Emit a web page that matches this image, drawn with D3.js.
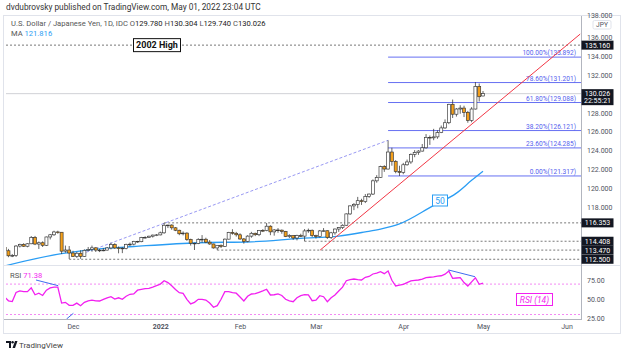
<!DOCTYPE html>
<html>
<head>
<meta charset="utf-8">
<script src="https://cdn.jsdelivr.net/npm/d3@7"></script>
<style>
  body { margin: 0; background: #fff; }
  svg { display: block; font-family: Roboto, "Liberation Sans", sans-serif; }
</style>
</head>
<body>
<svg id="chart" width="624" height="354"></svg>
<script>
// daily USD/JPY candles, Nov 05 2021 -> May 02 2022 (weekdays only)
const opens = [113.76,113.40,112.87,112.90,113.90,114.07,113.88,114.14,114.82,114.11,114.25,113.98,114.86,115.09,115.39,115.36,113.36,113.48,
  113.16,112.80,113.14,112.80,113.45,113.54,113.71,113.47,113.42,113.47,113.70,114.05,113.70,113.68,113.63,114.08,114.10,114.40,114.36,114.80,114.82,114.94,115.06,
  115.08,115.30,116.10,116.12,115.83,115.57,115.20,115.27,114.60,114.20,114.18,114.60,114.62,114.31,114.12,113.70,113.98,113.85,114.63,115.35,115.25,
  115.09,114.65,114.40,114.95,115.25,115.10,115.55,115.53,116.00,115.40,115.60,115.58,115.45,114.90,115.00,114.75,115.00,114.95,115.50,115.57,
  115.00,114.90,115.50,115.52,114.80,115.30,115.70,115.85,116.10,117.30,118.15,118.30,118.70,118.60,119.15,119.40,120.80,121.15,122.30,122.05,123.85,122.85,121.80,
  121.70,122.50,122.80,123.60,123.80,123.95,124.30,125.40,125.35,125.45,125.90,126.40,126.95,128.90,127.85,128.40,128.50,128.05,127.20,128.40,130.80,
  129.78];
const highs = [113.86,113.60,113.06,114.00,114.15,114.20,114.20,114.96,114.97,114.38,114.40,114.90,115.18,115.52,115.52,115.38,113.95,113.90,
  113.40,113.28,113.45,113.55,113.80,113.95,113.78,113.60,113.68,113.80,114.25,114.20,113.85,113.78,114.15,114.27,114.45,114.45,114.87,114.93,115.00,115.11,115.17,
  115.43,116.35,116.15,116.20,115.90,115.63,115.45,115.35,114.68,114.25,114.73,115.06,114.78,114.53,114.15,114.00,114.07,114.70,115.40,115.68,115.40,
  115.25,114.75,115.05,115.40,115.32,115.60,115.69,116.34,116.10,115.70,115.80,115.65,115.50,115.15,115.05,115.10,115.20,115.70,115.75,115.65,
  115.10,115.60,115.80,115.55,115.40,115.75,115.90,116.20,117.35,118.20,118.45,119.10,118.90,119.40,119.45,120.95,121.40,122.40,122.45,125.09,124.30,123.00,122.40,
  122.70,123.05,123.70,124.05,124.05,124.70,125.75,125.60,126.30,126.15,126.65,127.30,128.95,129.40,128.50,128.80,128.75,128.20,128.60,131.25,131.10,
  130.304];
const lows = [113.27,112.72,112.73,112.75,113.75,113.80,113.77,114.10,114.00,113.59,113.80,113.90,114.60,114.98,115.20,113.06,113.20,112.53,
  112.75,112.65,112.55,112.75,113.38,113.30,113.27,113.26,113.35,113.43,113.55,113.60,113.13,113.15,113.55,113.90,113.98,114.25,114.30,114.70,114.80,114.80,114.95,
  115.03,115.20,115.80,115.62,115.48,115.05,115.03,114.45,113.95,113.48,114.10,114.25,114.21,114.03,113.63,113.47,113.69,113.80,114.60,115.10,114.90,
  114.55,114.15,114.30,114.78,114.95,114.95,115.38,115.47,115.05,115.00,115.30,115.20,114.85,114.75,114.55,114.50,114.85,114.41,115.30,114.85,
  114.70,114.80,115.40,114.65,114.65,115.10,115.40,115.70,116.05,117.20,117.70,117.90,118.25,118.45,119.00,119.30,120.60,121.10,121.75,122.00,122.40,121.60,121.317,
  121.50,122.40,122.60,123.30,123.55,123.90,124.20,124.60,125.10,125.25,125.85,126.30,126.80,127.45,127.60,127.90,127.55,126.95,127.00,128.35,129.20,
  129.74];
const closes = [113.40,112.87,112.90,113.90,114.07,113.88,114.14,114.82,114.11,114.25,113.98,114.86,115.09,115.39,115.36,113.36,113.48,113.16,
  112.80,113.14,112.80,113.45,113.54,113.71,113.47,113.42,113.47,113.70,114.05,113.70,113.68,113.63,114.08,114.10,114.40,114.36,114.80,114.82,114.94,115.06,115.08,
  115.30,116.10,116.12,115.83,115.57,115.20,115.27,114.60,114.20,114.18,114.60,114.62,114.31,114.12,113.70,113.98,113.85,114.63,115.35,115.25,115.09,
  114.65,114.40,114.95,115.25,115.10,115.55,115.53,116.00,115.40,115.60,115.58,115.45,114.90,115.00,114.75,115.00,114.95,115.50,115.57,115.00,
  114.90,115.50,115.52,114.80,115.30,115.70,115.85,116.10,117.30,118.15,118.30,118.70,118.60,119.15,119.40,120.80,121.15,122.30,122.05,123.85,122.85,121.80,121.70,
  122.50,122.80,123.60,123.80,123.95,124.30,125.40,125.35,125.45,125.90,126.40,126.95,128.90,127.85,128.40,128.50,128.05,127.20,128.40,130.80,129.70,
  130.026];

// RSI(14), one value per candle
const rsiValues = [53,48,47,59,61,60,60,65,56,58,55,62,65,66,66,45,46,42,
  42,45,41.6,46,48,49,48,47.8,50,52,53.4,50.4,52,50,54,56.6,57,62,63.2,64,64.5,66,67.9,
  70,74.5,72,67.9,63,58.7,57.9,50,44,46,50,50,49,45,39.5,41.6,50,60,60,58.7,58,
  53,47.8,54,57,57.5,59.2,61,63.2,55.7,56,57,55,50,48,46.8,52,54.7,56,55.7,48.2,
  49,54.7,53.4,46.8,52,55.7,61,66,74.5,76,76.7,75.8,75.4,78.9,80,83.3,84.5,86.3,83.7,87.2,75,67.5,68.5,
  69.7,72,74.1,75,75.4,76.5,78.4,79,79.5,80.5,81,83,87.2,77.6,78,78.4,72,67.5,73,78.4,69.7,
  71.38];

// 50-day moving average read at a few candles
const maBars = [0,15,25,34,51,65,78,88,95,99,104,113,119,123,126];
const maValues = [111.8,113.1,113.6,113.85,114.25,114.35,114.72,114.95,115.4,115.7,116.25,118.2,119.5,120.85,121.816];

// fib levels
const fibPercents = ["0.00%","23.60%","38.20%","61.80%","78.60%","100.00%"];
const fibPrices = [121.317,124.285,126.121,129.088,131.201,133.892];

// horizontal levels and the candle where each one starts
const levelPrices = [135.160,116.353,114.408,113.470,112.500];
const levelStartBar = [-2,42,79,56,17];

// axis ticks
const priceTicks = [118,120,122,124,126,128,132,134,136,138];
const rsiTicks = [25,50,75];
const monthTickDates = ["2021-12-01","2022-01-03","2022-02-01","2022-03-01","2022-04-01","2022-05-02","2022-06-01"];
const monthTickLabels = ["Dec","2022","Feb","Mar","Apr","May","Jun"];

const lastPrice = 130.026;

// trading days (weekdays) so dates can be turned into bar numbers
const parse = d3.timeParse("%Y-%m-%d");
const tradingDays = d3.timeDay.range(parse("2021-11-05"), parse("2022-06-30"))
  .filter(d => d.getDay() !== 0 && d.getDay() !== 6);
const barOf = s => tradingDays.findIndex(d => +d === +parse(s));

const svg = d3.select("#chart");
const plotL = 6, plotR = 581, priceTop = 15, priceBot = 265, rsiTop = 266, rsiBot = 319;

const x = d3.scaleLinear().domain([0, 126]).range([4.67, 483]);
const y = d3.scaleLinear().domain([110, 140]).range([282.9, -0.6]);
const yr = d3.scaleLinear().domain([0, 100]).range([337.3, 261.3]);

// clip paths
const defs = svg.append("defs");
defs.append("clipPath").attr("id", "clipPrice").append("rect")
  .attr("x", plotL).attr("y", priceTop).attr("width", plotR - plotL).attr("height", priceBot - priceTop);
defs.append("clipPath").attr("id", "clipRsi").append("rect")
  .attr("x", plotL).attr("y", rsiTop).attr("width", plotR - plotL).attr("height", rsiBot - rsiTop);

// header line
svg.append("text").attr("x", 6).attr("y", 10).attr("font-size", 8.3).attr("fill", "#333")
  .text("dvdubrovsky published on TradingView.com, May 01, 2022 23:04 UTC");

// frame
svg.append("rect").attr("x", 3.5).attr("y", 15.5).attr("width", 617).attr("height", 318)
  .attr("fill", "#fff").attr("stroke", "#e0e3eb");
svg.append("line").attr("x1", 4).attr("x2", 620).attr("y1", priceBot + 0.5).attr("y2", priceBot + 0.5)
  .attr("stroke", "#e0e3eb");
svg.append("line").attr("x1", 4).attr("x2", plotR).attr("y1", rsiBot + 0.5).attr("y2", rsiBot + 0.5)
  .attr("stroke", "#b2b5be");
svg.append("line").attr("x1", plotR + 0.5).attr("x2", plotR + 0.5).attr("y1", 16).attr("y2", rsiBot + 1)
  .attr("stroke", "#b2b5be");

// ---------- price pane ----------
const gp = svg.append("g").attr("clip-path", "url(#clipPrice)");

// last price line
gp.append("line").attr("x1", plotL).attr("x2", plotR).attr("y1", y(lastPrice)).attr("y2", y(lastPrice))
  .attr("stroke", "#c4c6cc").attr("stroke-width", 0.8);

// dashed levels
gp.selectAll("line.level").data(levelPrices).join("line").attr("class", "level")
  .attr("x1", (d, i) => Math.max(plotL, x(levelStartBar[i]))).attr("x2", plotR)
  .attr("y1", d => y(d)).attr("y2", d => y(d))
  .attr("stroke", "#555").attr("stroke-width", 0.8).attr("stroke-dasharray", "2,2");

// fib lines
gp.selectAll("line.fib").data(fibPrices).join("line").attr("class", "fib")
  .attr("x1", x(101)).attr("x2", plotR)
  .attr("y1", d => y(d)).attr("y2", d => y(d))
  .attr("stroke", "#6670f2").attr("stroke-width", 1);
gp.selectAll("text.fib").data(fibPrices).join("text").attr("class", "fib")
  .attr("x", 576).attr("y", d => y(d) - 1.8).attr("text-anchor", "end")
  .attr("font-size", 6.6).attr("fill", "#5560ee")
  .text((d, i) => fibPercents[i] + "(" + d3.format(".3f")(d) + ")");

// purple dashed swing line
gp.append("line").attr("x1", x(21.5)).attr("y1", y(113.25)).attr("x2", x(101)).attr("y2", y(125.09))
  .attr("stroke", "#8c8cf0").attr("stroke-width", 0.9).attr("stroke-dasharray", "3,2");

// MA 50
gp.append("path").datum(maBars)
  .attr("d", d3.line().x(d => x(d)).y((d, i) => y(maValues[i])).curve(d3.curveMonotoneX))
  .attr("fill", "none").attr("stroke", "#2a9df4").attr("stroke-width", 1.3);

// candles
const bars = d3.range(closes.length);
gp.selectAll("line.wick").data(bars).join("line").attr("class", "wick")
  .attr("x1", i => x(i)).attr("x2", i => x(i))
  .attr("y1", i => y(highs[i])).attr("y2", i => y(lows[i]))
  .attr("stroke", "#333").attr("stroke-width", 0.75);
gp.selectAll("rect.body").data(bars).join("rect").attr("class", "body")
  .attr("x", i => x(i) - 1.5).attr("width", 3)
  .attr("y", i => y(Math.max(opens[i], closes[i])))
  .attr("height", i => Math.max(0.7, Math.abs(y(opens[i]) - y(closes[i]))))
  .attr("fill", i => closes[i] >= opens[i] ? "#ffffff" : "#f5a01a")
  .attr("stroke", "#333").attr("stroke-width", 0.65);

// red trendline
gp.append("line").attr("x1", x(83.1)).attr("y1", y(113.47)).attr("x2", x(151.6)).attr("y2", y(136.33))
  .attr("stroke", "#f23645").attr("stroke-width", 1);

// 2002 High label
const hi = svg.append("g");
hi.append("rect").attr("x", 133.5).attr("y", y(135.16) - 6.5).attr("width", 47).attr("height", 13)
  .attr("fill", "#fff").attr("stroke", "#111").attr("stroke-width", 1);
hi.append("text").attr("x", 157).attr("y", y(135.16) + 3).attr("text-anchor", "middle")
  .attr("font-size", 9).attr("font-weight", "bold").attr("fill", "#111").text("2002 High");

// "50" label
const ml = svg.append("g");
ml.append("rect").attr("x", 432.5).attr("y", 195).attr("width", 15).attr("height", 11)
  .attr("fill", "#fff").attr("stroke", "#2a9df4").attr("stroke-width", 1);
ml.append("text").attr("x", 440).attr("y", 203.5).attr("text-anchor", "middle")
  .attr("font-size", 8.5).attr("fill", "#2a9df4").text("50");

// legend
const lg = svg.append("text").attr("x", 11).attr("y", 26).attr("font-size", 7.6).attr("fill", "#555");
lg.append("tspan").text("U.S. Dollar / Japanese Yen, 1D, IDC  O");
lg.append("tspan").attr("fill", "#222").text("129.780");
lg.append("tspan").text("  H");
lg.append("tspan").attr("fill", "#222").text("130.304");
lg.append("tspan").text("  L");
lg.append("tspan").attr("fill", "#222").text("129.740");
lg.append("tspan").text("  C");
lg.append("tspan").attr("fill", "#222").text("130.026");
const lm = svg.append("text").attr("x", 11).attr("y", 35.5).attr("font-size", 7.6).attr("fill", "#555");
lm.append("tspan").text("MA  ");
lm.append("tspan").attr("fill", "#2a9df4").text(maValues[maValues.length - 1].toFixed(3));

// price axis
const pa = svg.append("g")
  .attr("transform", `translate(${plotR},0)`)
  .call(d3.axisRight(y).tickValues(priceTicks).tickFormat(d3.format(".3f")).tickSize(0).tickPadding(6));
pa.select(".domain").remove();
pa.selectAll("text").attr("font-size", 7).attr("fill", "#50535e").attr("font-family", "Roboto, sans-serif");
pa.selectAll(".tick").filter(d => d === 138).attr("transform", "translate(0,16)");

// JPY tag
svg.append("rect").attr("x", 593).attr("y", 20.5).attr("width", 18).attr("height", 8.5).attr("rx", 1.5)
  .attr("fill", "#fff").attr("stroke", "#e0e3eb");
svg.append("text").attr("x", 602).attr("y", 27.2).attr("text-anchor", "middle").attr("font-size", 6.6)
  .attr("fill", "#50535e").text("JPY");

// black price tags
const tagPrices = levelPrices.slice();
svg.selectAll("g.tag").data(tagPrices).join("g").attr("class", "tag")
  .each(function (d) {
    const g = d3.select(this);
    g.append("rect").attr("x", plotR + 0.5).attr("y", y(d) - 4.5).attr("width", 32).attr("height", 9)
      .attr("fill", "#131722");
    g.append("text").attr("x", plotR + 16.5).attr("y", y(d) + 2.5).attr("text-anchor", "middle")
      .attr("font-size", 7).attr("fill", "#fff").text(d3.format(".3f")(d));
  });
const lt = svg.append("g");
lt.append("rect").attr("x", plotR + 0.5).attr("y", y(lastPrice) - 4.5).attr("width", 32).attr("height", 16)
  .attr("fill", "#131722");
lt.append("text").attr("x", plotR + 16.5).attr("y", y(lastPrice) + 2.5).attr("text-anchor", "middle")
  .attr("font-size", 7).attr("fill", "#fff").text(d3.format(".3f")(lastPrice));
lt.append("text").attr("x", plotR + 16.5).attr("y", y(lastPrice) + 9.5).attr("text-anchor", "middle")
  .attr("font-size", 7).attr("fill", "#fff").text("22:55:21");

// ---------- RSI pane ----------
const gr = svg.append("g").attr("clip-path", "url(#clipRsi)");
gr.selectAll("line.band").data([70, 30]).join("line").attr("class", "band")
  .attr("x1", plotL).attr("x2", plotR).attr("y1", d => yr(d)).attr("y2", d => yr(d))
  .attr("stroke", "#f06cf0").attr("stroke-width", 0.8).attr("stroke-dasharray", "2,2");
gr.append("path").datum(bars)
  .attr("d", d3.line().x(i => x(i)).y(i => yr(rsiValues[i])))
  .attr("fill", "none").attr("stroke", "#f21ff0").attr("stroke-width", 1.3);

// RSI trendlines
const rsiTrendA = [[8.25, 75.4], [14.1, 67.9]];
const rsiTrendB = [[16.3, 24.1], [18.1, 31.6]];
const rsiTrendC = [[116.9, 88.6], [123.9, 79.7]];
gr.selectAll("path.trend").data([rsiTrendA, rsiTrendB, rsiTrendC]).join("path").attr("class", "trend")
  .attr("d", d3.line().x(p => x(p[0])).y(p => yr(p[1])))
  .attr("stroke", "#3f6cf0").attr("stroke-width", 1).attr("fill", "none");

const rl = svg.append("text").attr("x", 10).attr("y", 277.5).attr("font-size", 7.6).attr("fill", "#555");
rl.append("tspan").text("RSI  ");
rl.append("tspan").attr("fill", "#f21ff0").text(rsiValues[rsiValues.length - 1].toFixed(2));

svg.append("rect").attr("x", 516.5).attr("y", 293.5).attr("width", 36).attr("height", 12)
  .attr("fill", "#fff").attr("stroke", "#f21ff0").attr("stroke-width", 1);
svg.append("text").attr("x", 534.5).attr("y", 302.5).attr("text-anchor", "middle")
  .attr("font-size", 8.5).attr("font-style", "italic").attr("fill", "#f21ff0").text("RSI (14)");

const ra = svg.append("g").attr("transform", `translate(${plotR},0)`)
  .call(d3.axisRight(yr).tickValues(rsiTicks).tickFormat(d3.format(".2f")).tickSize(0).tickPadding(6));
ra.select(".domain").remove();
ra.selectAll("text").attr("font-size", 7).attr("fill", "#50535e").attr("font-family", "Roboto, sans-serif");

// ---------- time axis ----------
const ta = svg.append("g").attr("transform", `translate(0,${rsiBot})`)
  .call(d3.axisBottom(x).tickValues(monthTickDates.map(barOf))
    .tickFormat((d, i) => monthTickLabels[i]).tickSize(0).tickPadding(5));
ta.select(".domain").remove();
ta.selectAll("text").attr("font-size", 7).attr("fill", "#50535e").attr("font-family", "Roboto, sans-serif")
  .attr("font-weight", (d, i) => monthTickLabels[i] === "2022" ? "bold" : null);

// footer logo
const logo = svg.append("g").attr("transform", "translate(6,341)");
logo.append("path").attr("d", "M0,0 H5 V7 H3 V2 H0 Z").attr("fill", "#131722");
logo.append("circle").attr("cx", 6.6).attr("cy", 1.2).attr("r", 1.2).attr("fill", "#131722");
logo.append("path").attr("d", "M6.5,7 L9,0 H11.5 L9,7 Z").attr("fill", "#131722");
svg.append("text").attr("x", 19).attr("y", 348).attr("font-size", 8).attr("fill", "#444").text("TradingView");
</script>
</body>
</html>
